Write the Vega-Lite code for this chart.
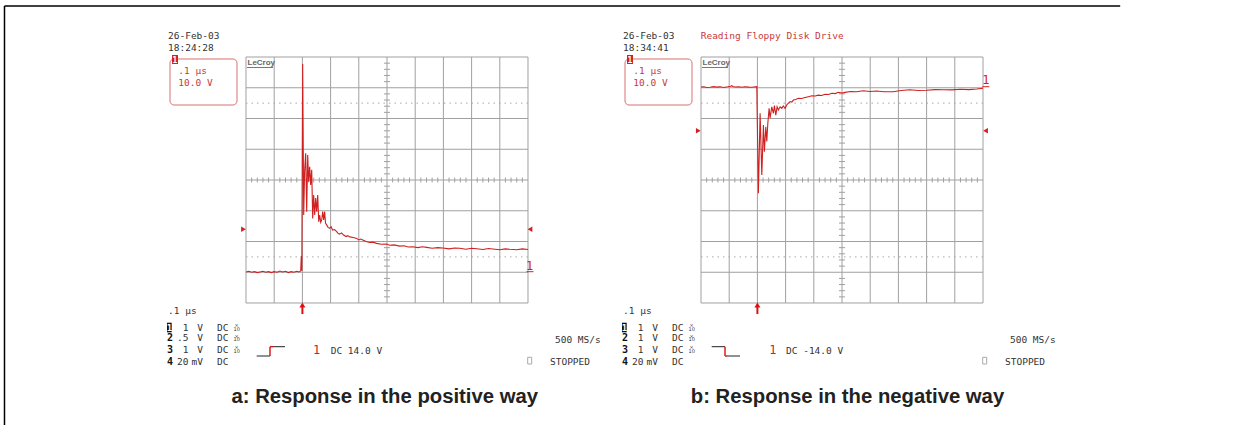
{
"$schema": "https://vega.github.io/schema/vega-lite/v6.json",
"width": 1233, "height": 425,
"autosize": {"type": "none"},
"padding": 0,
"background": "white",
"config": {"view": {"stroke": null}},
"datasets": {
"scr": [
{"p":"ab","r":"grid","x":0,"y":0,"x2":0,"y2":8},{"p":"ab","r":"grid","x":1,"y":0,"x2":1,"y2":8},{"p":"ab","r":"grid","x":2,"y":0,"x2":2,"y2":8},{"p":"ab","r":"grid","x":3,"y":0,"x2":3,"y2":8},{"p":"ab","r":"grid","x":4,"y":0,"x2":4,"y2":8},{"p":"ab","r":"grid","x":5,"y":0,"x2":5,"y2":8},{"p":"ab","r":"grid","x":6,"y":0,"x2":6,"y2":8},{"p":"ab","r":"grid","x":7,"y":0,"x2":7,"y2":8},{"p":"ab","r":"grid","x":8,"y":0,"x2":8,"y2":8},{"p":"ab","r":"grid","x":9,"y":0,"x2":9,"y2":8},{"p":"ab","r":"grid","x":10,"y":0,"x2":10,"y2":8},
{"p":"ab","r":"grid","x":0,"y":0,"x2":10,"y2":0},{"p":"ab","r":"grid","x":0,"y":1,"x2":10,"y2":1},{"p":"ab","r":"grid","x":0,"y":2,"x2":10,"y2":2},{"p":"ab","r":"grid","x":0,"y":3,"x2":10,"y2":3},{"p":"ab","r":"grid","x":0,"y":4,"x2":10,"y2":4},{"p":"ab","r":"grid","x":0,"y":5,"x2":10,"y2":5},{"p":"ab","r":"grid","x":0,"y":6,"x2":10,"y2":6},{"p":"ab","r":"grid","x":0,"y":7,"x2":10,"y2":7},{"p":"ab","r":"grid","x":0,"y":8,"x2":10,"y2":8},
{"p":"ab","r":"dot","x":0,"y":1.5,"x2":10,"y2":1.5},{"p":"ab","r":"dot","x":0,"y":6.5,"x2":10,"y2":6.5},
{"p":"ab","r":"xt","x":0.2,"y":4},{"p":"ab","r":"xt","x":0.4,"y":4},{"p":"ab","r":"xt","x":0.6,"y":4},{"p":"ab","r":"xt","x":0.8,"y":4},
{"p":"ab","r":"xt","x":1.2,"y":4},{"p":"ab","r":"xt","x":1.4,"y":4},{"p":"ab","r":"xt","x":1.6,"y":4},{"p":"ab","r":"xt","x":1.8,"y":4},
{"p":"ab","r":"xt","x":2.2,"y":4},{"p":"ab","r":"xt","x":2.4,"y":4},{"p":"ab","r":"xt","x":2.6,"y":4},{"p":"ab","r":"xt","x":2.8,"y":4},
{"p":"ab","r":"xt","x":3.2,"y":4},{"p":"ab","r":"xt","x":3.4,"y":4},{"p":"ab","r":"xt","x":3.6,"y":4},{"p":"ab","r":"xt","x":3.8,"y":4},
{"p":"ab","r":"xt","x":4.2,"y":4},{"p":"ab","r":"xt","x":4.4,"y":4},{"p":"ab","r":"xt","x":4.6,"y":4},{"p":"ab","r":"xt","x":4.8,"y":4},
{"p":"ab","r":"xt","x":5.2,"y":4},{"p":"ab","r":"xt","x":5.4,"y":4},{"p":"ab","r":"xt","x":5.6,"y":4},{"p":"ab","r":"xt","x":5.8,"y":4},
{"p":"ab","r":"xt","x":6.2,"y":4},{"p":"ab","r":"xt","x":6.4,"y":4},{"p":"ab","r":"xt","x":6.6,"y":4},{"p":"ab","r":"xt","x":6.8,"y":4},
{"p":"ab","r":"xt","x":7.2,"y":4},{"p":"ab","r":"xt","x":7.4,"y":4},{"p":"ab","r":"xt","x":7.6,"y":4},{"p":"ab","r":"xt","x":7.8,"y":4},
{"p":"ab","r":"xt","x":8.2,"y":4},{"p":"ab","r":"xt","x":8.4,"y":4},{"p":"ab","r":"xt","x":8.6,"y":4},{"p":"ab","r":"xt","x":8.8,"y":4},
{"p":"ab","r":"xt","x":9.2,"y":4},{"p":"ab","r":"xt","x":9.4,"y":4},{"p":"ab","r":"xt","x":9.6,"y":4},{"p":"ab","r":"xt","x":9.8,"y":4},
{"p":"ab","r":"yt","x":5,"y":0.2},{"p":"ab","r":"yt","x":5,"y":0.4},{"p":"ab","r":"yt","x":5,"y":0.6},{"p":"ab","r":"yt","x":5,"y":0.8},
{"p":"ab","r":"yt","x":5,"y":1.2},{"p":"ab","r":"yt","x":5,"y":1.4},{"p":"ab","r":"yt","x":5,"y":1.6},{"p":"ab","r":"yt","x":5,"y":1.8},
{"p":"ab","r":"yt","x":5,"y":2.2},{"p":"ab","r":"yt","x":5,"y":2.4},{"p":"ab","r":"yt","x":5,"y":2.6},{"p":"ab","r":"yt","x":5,"y":2.8},
{"p":"ab","r":"yt","x":5,"y":3.2},{"p":"ab","r":"yt","x":5,"y":3.4},{"p":"ab","r":"yt","x":5,"y":3.6},{"p":"ab","r":"yt","x":5,"y":3.8},
{"p":"ab","r":"yt","x":5,"y":4.2},{"p":"ab","r":"yt","x":5,"y":4.4},{"p":"ab","r":"yt","x":5,"y":4.6},{"p":"ab","r":"yt","x":5,"y":4.8},
{"p":"ab","r":"yt","x":5,"y":5.2},{"p":"ab","r":"yt","x":5,"y":5.4},{"p":"ab","r":"yt","x":5,"y":5.6},{"p":"ab","r":"yt","x":5,"y":5.8},
{"p":"ab","r":"yt","x":5,"y":6.2},{"p":"ab","r":"yt","x":5,"y":6.4},{"p":"ab","r":"yt","x":5,"y":6.6},{"p":"ab","r":"yt","x":5,"y":6.8},
{"p":"ab","r":"yt","x":5,"y":7.2},{"p":"ab","r":"yt","x":5,"y":7.4},{"p":"ab","r":"yt","x":5,"y":7.6},{"p":"ab","r":"yt","x":5,"y":7.8},
{"p":"a","r":"frameH","x":-8.564,"y":9.659,"x2":31.0},
{"p":"a","r":"frameV","x":-8.564,"y":9.659,"y2":-5.5},
{"p":"ab","r":"boxred","x":-2.695,"y":7.935,"x2":-0.319,"y2":6.439},
{"p":"ab","r":"badge","x":-2.624,"y":8.065,"x2":-2.411,"y2":7.772},
{"p":"ab","r":"badgetxt","x":-2.518,"y":7.81,"txt":"1"},
{"p":"ab","r":"red","x":-2.401,"y":7.463,"txt":".1 µs"},
{"p":"ab","r":"red","x":-2.401,"y":7.073,"txt":"10.0 V"},
{"p":"ab","r":"lecroy","x":0.053,"y":7.724,"txt":"LeCroy"},
{"p":"ab","r":"gline","x":0.035,"y":7.659,"x2":0.957,"y2":7.659},
{"p":"ab","r":"mono","x":-2.766,"y":-0.358,"txt":".1 µs"},
{"p":"ab","r":"inv","x":-2.801,"y":-0.641,"x2":-2.635,"y2":-0.953},
{"p":"ab","r":"invtxt","x":-2.718,"y":-0.911,"txt":"1"},
{"p":"ab","r":"chnum","x":-2.801,"y":-1.252,"txt":"2"},
{"p":"ab","r":"chnum","x":-2.801,"y":-1.626,"txt":"3"},
{"p":"ab","r":"chnum","x":-2.801,"y":-2.016,"txt":"4"},
{"p":"ab","r":"monoR","x":-2.039,"y":-0.911,"txt":"1"},
{"p":"a","r":"monoR","x":-2.039,"y":-1.252,"txt":".5"},
{"p":"b","r":"monoR","x":-2.039,"y":-1.252,"txt":"1"},
{"p":"ab","r":"monoR","x":-2.039,"y":-1.626,"txt":"1"},
{"p":"ab","r":"monoR","x":-2.039,"y":-2.016,"txt":"20"},
{"p":"ab","r":"monoR","x":-1.525,"y":-0.911,"txt":"V"},
{"p":"ab","r":"monoR","x":-1.525,"y":-1.252,"txt":"V"},
{"p":"ab","r":"monoR","x":-1.525,"y":-1.626,"txt":"V"},
{"p":"ab","r":"monoR","x":-1.525,"y":-2.016,"txt":"mV"},
{"p":"ab","r":"mono","x":-1.028,"y":-0.911,"txt":"DC"},
{"p":"ab","r":"mono","x":-1.028,"y":-1.252,"txt":"DC"},
{"p":"ab","r":"mono","x":-1.028,"y":-1.626,"txt":"DC"},
{"p":"ab","r":"mono","x":-1.028,"y":-2.016,"txt":"DC"},
{"p":"ab","r":"tiny","x":-0.33,"y":-0.78,"txt":"×"},
{"p":"ab","r":"tiny","x":-0.33,"y":-0.911,"txt":"10"},
{"p":"ab","r":"tiny","x":-0.33,"y":-1.122,"txt":"×"},
{"p":"ab","r":"tiny","x":-0.33,"y":-1.252,"txt":"10"},
{"p":"ab","r":"tiny","x":-0.33,"y":-1.496,"txt":"×"},
{"p":"ab","r":"tiny","x":-0.33,"y":-1.626,"txt":"10"},
{"p":"ab","r":"mono","x":10.957,"y":-1.317,"txt":"500 MS/s"},
{"p":"ab","r":"chk","x":9.989,"y":-1.766,"x2":10.131,"y2":-1.984},
{"p":"ab","r":"mono","x":10.78,"y":-2.016,"txt":"STOPPED"},
{"p":"a","r":"mono","x":-2.766,"y":8.585,"txt":"26-Feb-03"},
{"p":"a","r":"mono","x":-2.766,"y":8.195,"txt":"18:24:28"},
{"p":"b","r":"mono","x":-2.766,"y":8.585,"txt":"26-Feb-03"},
{"p":"b","r":"mono","x":-2.766,"y":8.195,"txt":"18:34:41"},
{"p":"b","r":"red","x":-0.011,"y":8.585,"txt":"Reading Floppy Disk Drive"},
{"p":"a","r":"blk","x":0.379,"y":-1.724,"x2":0.851,"y2":-1.724},
{"p":"a","r":"blk","x":0.957,"y":-1.421,"x2":1.383,"y2":-1.421},
{"p":"a","r":"redl","x":0.851,"y":-1.724,"x2":0.851,"y2":-1.421},
{"p":"a","r":"redl","x":0.851,"y":-1.421,"x2":0.957,"y2":-1.421},
{"p":"b","r":"blk","x":0.379,"y":-1.421,"x2":0.851,"y2":-1.421},
{"p":"b","r":"blk","x":0.922,"y":-1.724,"x2":1.383,"y2":-1.724},
{"p":"b","r":"redl","x":0.851,"y":-1.421,"x2":0.851,"y2":-1.724},
{"p":"b","r":"redl","x":0.851,"y":-1.724,"x2":0.922,"y2":-1.724},
{"p":"a","r":"trig1","x":2.376,"y":-1.659,"txt":"1"},
{"p":"a","r":"mono","x":3.004,"y":-1.659,"txt":"DC 14.0 V"},
{"p":"b","r":"trig1","x":2.422,"y":-1.659,"txt":"1"},
{"p":"b","r":"mono","x":3.014,"y":-1.659,"txt":"DC -14.0 V"},
{"p":"a","r":"cap","x":4.92,"y":-3.252,"txt":"a: Response in the positive way"},
{"p":"b","r":"cap","x":5.195,"y":-3.252,"txt":"b: Response in the negative way"}
],
"trA": [
{"t":-0.2,"v":0.1},{"t":-0.19,"v":0.3},{"t":-0.18,"v":0.0},{"t":-0.17,"v":0.2},{"t":-0.16,"v":-0.1},{"t":-0.15,"v":0.1},{"t":-0.14,"v":0.3},{"t":-0.13,"v":0.0},{"t":-0.12,"v":0.2},{"t":-0.11,"v":-0.1},{"t":-0.1,"v":0.2},{"t":-0.09,"v":0.0},{"t":-0.08,"v":0.4},{"t":-0.07,"v":0.1},{"t":-0.06,"v":0.3},{"t":-0.05,"v":-0.1},{"t":-0.04,"v":0.2},{"t":-0.03,"v":0.0},{"t":-0.02,"v":0.3},{"t":-0.012,"v":0.1},{"t":-0.006,"v":0.4},{"t":-0.004,"v":5.3},{"t":-0.002,"v":0.5},
{"t":0.001,"v":67.7},{"t":0.0046,"v":18.6},{"t":0.008,"v":33.3},{"t":0.0117,"v":38.7},{"t":0.0152,"v":19.7},{"t":0.0188,"v":38.1},{"t":0.0223,"v":29.4},{"t":0.0259,"v":34.3},{"t":0.0294,"v":28.4},{"t":0.033,"v":33.3},{"t":0.0365,"v":17.5},{"t":0.04,"v":25.1},{"t":0.0436,"v":18.6},{"t":0.0472,"v":24.1},{"t":0.0507,"v":19.7},{"t":0.0543,"v":25.1},{"t":0.0578,"v":16.4},{"t":0.0613,"v":18.6},{"t":0.065,"v":16.2},{"t":0.0684,"v":17.0},{"t":0.072,"v":19.7},{"t":0.0755,"v":17.0},{"t":0.079,"v":19.7},{"t":0.082,"v":16.0},{"t":0.086,"v":15.4},{"t":0.091,"v":14.6},{"t":0.0968,"v":14.3},{"t":0.102,"v":14.8},{"t":0.107,"v":13.7},{"t":0.114,"v":13.9},{"t":0.1216,"v":13.2},{"t":0.127,"v":12.6},{"t":0.132,"v":12.4},{"t":0.139,"v":12.8},{"t":0.146,"v":12.1},{"t":0.155,"v":11.6},{"t":0.161,"v":11.9},{"t":0.168,"v":11.5},{"t":0.18,"v":11.3},{"t":0.1926,"v":11.0},{"t":0.2,"v":10.5},{"t":0.207,"v":10.8},{"t":0.214,"v":10.5},{"t":0.226,"v":10.0},{"t":0.239,"v":9.7},{"t":0.25,"v":9.8},{"t":0.263,"v":9.4},{"t":0.28,"v":9.1},{"t":0.298,"v":9.2},{"t":0.31,"v":8.8},{"t":0.325,"v":8.9},{"t":0.345,"v":8.5},{"t":0.36,"v":8.6},{"t":0.375,"v":8.2},{"t":0.391,"v":8.3},{"t":0.41,"v":8.0},{"t":0.425,"v":8.3},{"t":0.441,"v":8.1},{"t":0.46,"v":7.8},{"t":0.48,"v":8.0},{"t":0.498,"v":7.9},{"t":0.52,"v":7.6},{"t":0.54,"v":7.9},{"t":0.558,"v":7.8},{"t":0.58,"v":7.5},{"t":0.6,"v":7.8},{"t":0.618,"v":7.66},{"t":0.64,"v":7.4},{"t":0.66,"v":7.7},{"t":0.675,"v":7.56},{"t":0.7,"v":7.3},{"t":0.72,"v":7.6},{"t":0.735,"v":7.46},{"t":0.76,"v":7.3},{"t":0.78,"v":7.6},{"t":0.8,"v":7.4}
],
"trB": [
{"t":-0.2,"v":0.24},{"t":-0.19,"v":0.3},{"t":-0.18,"v":0.1},{"t":-0.168,"v":0.15},{"t":-0.155,"v":0.35},{"t":-0.145,"v":0.2},{"t":-0.132,"v":0.3},{"t":-0.12,"v":0.1},{"t":-0.105,"v":0.3},{"t":-0.095,"v":0.5},{"t":-0.091,"v":0.67},{"t":-0.087,"v":0.4},{"t":-0.079,"v":0.24},{"t":-0.065,"v":0.3},{"t":-0.055,"v":0.15},{"t":-0.044,"v":0.34},{"t":-0.03,"v":0.2},{"t":-0.019,"v":0.18},{"t":-0.008,"v":0.3},{"t":-0.002,"v":0.34},{"t":-0.001,"v":-6.7},
{"t":0.0035,"v":-34.3},{"t":0.0096,"v":-8.3},{"t":0.0156,"v":-28.4},{"t":0.0213,"v":-12.1},{"t":0.0248,"v":-20.8},{"t":0.0298,"v":-12.7},{"t":0.0333,"v":-17.5},{"t":0.0369,"v":-11.6},{"t":0.0415,"v":-6.7},{"t":0.045,"v":-9.9},{"t":0.051,"v":-6.2},{"t":0.0567,"v":-8.3},{"t":0.0603,"v":-5.8},{"t":0.0652,"v":-8.9},{"t":0.0699,"v":-6.2},{"t":0.0745,"v":-7.2},{"t":0.0805,"v":-6.2},{"t":0.0865,"v":-6.7},{"t":0.092,"v":-5.9},{"t":0.0982,"v":-6.7},{"t":0.104,"v":-5.6},{"t":0.11,"v":-5.0},{"t":0.116,"v":-4.5},{"t":0.122,"v":-4.7},{"t":0.1277,"v":-4.0},{"t":0.136,"v":-3.8},{"t":0.145,"v":-3.4},{"t":0.157,"v":-3.5},{"t":0.169,"v":-3.2},{"t":0.181,"v":-2.9},{"t":0.193,"v":-2.6},{"t":0.205,"v":-2.7},{"t":0.216,"v":-2.4},{"t":0.228,"v":-2.5},{"t":0.24,"v":-2.1},{"t":0.252,"v":-2.2},{"t":0.264,"v":-1.8},{"t":0.276,"v":-1.9},{"t":0.287,"v":-1.5},{"t":0.3,"v":-1.7},{"t":0.311,"v":-1.5},{"t":0.33,"v":-1.2},{"t":0.352,"v":-1.3},{"t":0.375,"v":-1.0},{"t":0.4,"v":-1.2},{"t":0.423,"v":-1.06},{"t":0.45,"v":-1.3},{"t":0.481,"v":-1.3},{"t":0.51,"v":-0.9},{"t":0.541,"v":-0.63},{"t":0.57,"v":-0.9},{"t":0.6,"v":-0.83},{"t":0.63,"v":-0.6},{"t":0.658,"v":-0.63},{"t":0.69,"v":-0.7},{"t":0.719,"v":-0.5},{"t":0.75,"v":-0.6},{"t":0.778,"v":-0.4},{"t":0.8,"v":-0.18}
],
"mkA": [
{"k":"tl","t":-0.2089,"v":14},{"k":"tr","t":0.807,"v":14},{"k":"arr","t":0,"v":-10.65,"v2":-13.6},{"k":"gnd","t":0.807,"v":0.18},{"k":"g1","t":0.806,"v":0.73,"txt":"1"}
],
"mkB": [
{"k":"tl","t":-0.2096,"v":-14},{"k":"tr","t":0.809,"v":-14},{"k":"arr","t":0,"v":-70.65,"v2":-73.6},{"k":"gnd","t":0.81,"v":0.34},{"k":"g1","t":0.81,"v":1.22,"txt":"1"}
]
},
"layer": [
{
"layer": [
{
"data": {"name": "scr"},
"transform": [{"filter": "indexof(datum.p,'a')>=0"}],
"encoding": {
"x": {"field": "x", "type": "quantitative", "scale": {"domain": [-8.7234, 35.0], "nice": false, "zero": false}, "axis": null},
"y": {"field": "y", "type": "quantitative", "scale": {"domain": [-3.9675, 9.8537], "nice": false, "zero": false}, "axis": null}
},
"layer": [
{"transform": [{"filter": "datum.r=='grid'"}], "mark": {"type": "rule", "color": "#a0a0a0", "strokeWidth": 1}, "encoding": {"x2": {"field": "x2"}, "y2": {"field": "y2"}}},
{"transform": [{"filter": "datum.r=='dot'"}], "mark": {"type": "rule", "color": "#a8a8a8", "strokeWidth": 1, "strokeDash": [1.5, 4]}, "encoding": {"x2": {"field": "x2"}, "y2": {"field": "y2"}}},
{"transform": [{"filter": "datum.r=='xt'"}], "mark": {"type": "tick", "orient": "vertical", "size": 5, "thickness": 1, "color": "#a0a0a0", "opacity": 1}},
{"transform": [{"filter": "datum.r=='yt'"}], "mark": {"type": "tick", "orient": "horizontal", "size": 6, "thickness": 1, "color": "#a0a0a0", "opacity": 1}},
{"transform": [{"filter": "datum.r=='frameH'"}], "mark": {"type": "rule", "color": "#000000", "strokeWidth": 1.5}, "encoding": {"x2": {"field": "x2"}}},
{"transform": [{"filter": "datum.r=='frameV'"}], "mark": {"type": "rule", "color": "#000000", "strokeWidth": 1.5}, "encoding": {"y2": {"field": "y2"}}},
{"transform": [{"filter": "datum.r=='blk'"}], "mark": {"type": "rule", "color": "#222222", "strokeWidth": 1}, "encoding": {"x2": {"field": "x2"}, "y2": {"field": "y2"}}},
{"transform": [{"filter": "datum.r=='redl'"}], "mark": {"type": "rule", "color": "#d42020", "strokeWidth": 1.5}, "encoding": {"x2": {"field": "x2"}, "y2": {"field": "y2"}}},
{"transform": [{"filter": "datum.r=='gline'"}], "mark": {"type": "rule", "color": "#777777", "strokeWidth": 1}, "encoding": {"x2": {"field": "x2"}, "y2": {"field": "y2"}}},
{"transform": [{"filter": "datum.r=='boxred'"}], "mark": {"type": "rect", "filled": false, "stroke": "#d87070", "strokeWidth": 1, "cornerRadius": 4}, "encoding": {"x2": {"field": "x2"}, "y2": {"field": "y2"}}},
{"transform": [{"filter": "datum.r=='badge'"}], "mark": {"type": "rect", "color": "#d42020"}, "encoding": {"x2": {"field": "x2"}, "y2": {"field": "y2"}}},
{"transform": [{"filter": "datum.r=='inv'"}], "mark": {"type": "rect", "color": "#111111"}, "encoding": {"x2": {"field": "x2"}, "y2": {"field": "y2"}}},
{"transform": [{"filter": "datum.r=='chk'"}], "mark": {"type": "rect", "filled": false, "stroke": "#aaaaaa", "strokeWidth": 1}, "encoding": {"x2": {"field": "x2"}, "y2": {"field": "y2"}}},
{"transform": [{"filter": "datum.r=='mono'"}], "mark": {"type": "text", "align": "left", "baseline": "alphabetic", "font": "DejaVu Sans Mono", "fontSize": 9.5, "color": "#333333"}, "encoding": {"text": {"field": "txt"}}},
{"transform": [{"filter": "datum.r=='monoR'"}], "mark": {"type": "text", "align": "right", "baseline": "alphabetic", "font": "DejaVu Sans Mono", "fontSize": 9.5, "color": "#333333"}, "encoding": {"text": {"field": "txt"}}},
{"transform": [{"filter": "datum.r=='red'"}], "mark": {"type": "text", "align": "left", "baseline": "alphabetic", "font": "DejaVu Sans Mono", "fontSize": 9.5, "color": "#c83a3a"}, "encoding": {"text": {"field": "txt"}}},
{"transform": [{"filter": "datum.r=='chnum'"}], "mark": {"type": "text", "align": "left", "baseline": "alphabetic", "font": "DejaVu Sans Mono", "fontSize": 10, "fontWeight": "bold", "color": "#111111"}, "encoding": {"text": {"field": "txt"}}},
{"transform": [{"filter": "datum.r=='invtxt'"}], "mark": {"type": "text", "align": "center", "baseline": "alphabetic", "font": "DejaVu Sans Mono", "fontSize": 9, "fontWeight": "bold", "color": "#ffffff"}, "encoding": {"text": {"field": "txt"}}},
{"transform": [{"filter": "datum.r=='badgetxt'"}], "mark": {"type": "text", "align": "center", "baseline": "alphabetic", "font": "DejaVu Sans Mono", "fontSize": 8, "fontWeight": "bold", "color": "#ffffff"}, "encoding": {"text": {"field": "txt"}}},
{"transform": [{"filter": "datum.r=='tiny'"}], "mark": {"type": "text", "align": "center", "baseline": "alphabetic", "font": "DejaVu Sans", "fontSize": 5, "color": "#333333"}, "encoding": {"text": {"field": "txt"}}},
{"transform": [{"filter": "datum.r=='trig1'"}], "mark": {"type": "text", "align": "left", "baseline": "alphabetic", "font": "DejaVu Sans Mono", "fontSize": 12, "color": "#d42020"}, "encoding": {"text": {"field": "txt"}}},
{"transform": [{"filter": "datum.r=='lecroy'"}], "mark": {"type": "text", "align": "left", "baseline": "alphabetic", "font": "Liberation Sans", "fontSize": 8, "fontWeight": "bold", "color": "#666666"}, "encoding": {"text": {"field": "txt"}}},
{"transform": [{"filter": "datum.r=='cap'"}], "mark": {"type": "text", "align": "center", "baseline": "alphabetic", "font": "Liberation Sans", "fontSize": 20.3, "fontWeight": "bold", "color": "#222222"}, "encoding": {"text": {"field": "txt"}}}
]
},
{
"encoding": {
"x": {"field": "t", "type": "quantitative", "scale": {"domain": [-1.07234, 3.3], "nice": false, "zero": false}, "axis": null},
"y": {"field": "v", "type": "quantitative", "scale": {"domain": [-49.675, 88.537], "nice": false, "zero": false}, "axis": null}
},
"layer": [
{"data": {"name": "trA"}, "mark": {"type": "line", "color": "#d02020", "strokeWidth": 1.1}},
{"data": {"name": "mkA"}, "transform": [{"filter": "datum.k=='tl'"}], "mark": {"type": "point", "shape": "triangle-right", "filled": true, "size": 30, "color": "#d42020", "opacity": 1}},
{"data": {"name": "mkA"}, "transform": [{"filter": "datum.k=='tr'"}], "mark": {"type": "point", "shape": "triangle-left", "filled": true, "size": 30, "color": "#d42020", "opacity": 1}},
{"data": {"name": "mkA"}, "transform": [{"filter": "datum.k=='arr'"}], "mark": {"type": "rule", "color": "#e01010", "strokeWidth": 2}, "encoding": {"y2": {"field": "v2"}}},
{"data": {"name": "mkA"}, "transform": [{"filter": "datum.k=='arr'"}], "mark": {"type": "point", "shape": "triangle-up", "filled": true, "size": 36, "color": "#e01010", "opacity": 1}},
{"data": {"name": "mkA"}, "transform": [{"filter": "datum.k=='gnd'"}], "mark": {"type": "tick", "orient": "horizontal", "size": 7, "thickness": 1, "color": "#d42020", "opacity": 1}},
{"data": {"name": "mkA"}, "transform": [{"filter": "datum.k=='g1'"}], "mark": {"type": "text", "align": "center", "baseline": "alphabetic", "font": "DejaVu Sans Mono", "fontSize": 12, "color": "#d42020"}, "encoding": {"text": {"field": "txt"}}}
]
}
],
"resolve": {"scale": {"x": "independent", "y": "independent"}}
},
{
"layer": [
{
"data": {"name": "scr"},
"transform": [{"filter": "indexof(datum.p,'b')>=0"}],
"encoding": {
"x": {"field": "x", "type": "quantitative", "scale": {"domain": [-24.858, 18.865], "nice": false, "zero": false}, "axis": null},
"y": {"field": "y", "type": "quantitative", "scale": {"domain": [-3.9675, 9.8537], "nice": false, "zero": false}, "axis": null}
},
"layer": [
{"transform": [{"filter": "datum.r=='grid'"}], "mark": {"type": "rule", "color": "#a0a0a0", "strokeWidth": 1}, "encoding": {"x2": {"field": "x2"}, "y2": {"field": "y2"}}},
{"transform": [{"filter": "datum.r=='dot'"}], "mark": {"type": "rule", "color": "#a8a8a8", "strokeWidth": 1, "strokeDash": [1.5, 4]}, "encoding": {"x2": {"field": "x2"}, "y2": {"field": "y2"}}},
{"transform": [{"filter": "datum.r=='xt'"}], "mark": {"type": "tick", "orient": "vertical", "size": 5, "thickness": 1, "color": "#a0a0a0", "opacity": 1}},
{"transform": [{"filter": "datum.r=='yt'"}], "mark": {"type": "tick", "orient": "horizontal", "size": 6, "thickness": 1, "color": "#a0a0a0", "opacity": 1}},
{"transform": [{"filter": "datum.r=='blk'"}], "mark": {"type": "rule", "color": "#222222", "strokeWidth": 1}, "encoding": {"x2": {"field": "x2"}, "y2": {"field": "y2"}}},
{"transform": [{"filter": "datum.r=='redl'"}], "mark": {"type": "rule", "color": "#d42020", "strokeWidth": 1.5}, "encoding": {"x2": {"field": "x2"}, "y2": {"field": "y2"}}},
{"transform": [{"filter": "datum.r=='gline'"}], "mark": {"type": "rule", "color": "#777777", "strokeWidth": 1}, "encoding": {"x2": {"field": "x2"}, "y2": {"field": "y2"}}},
{"transform": [{"filter": "datum.r=='boxred'"}], "mark": {"type": "rect", "filled": false, "stroke": "#d87070", "strokeWidth": 1, "cornerRadius": 4}, "encoding": {"x2": {"field": "x2"}, "y2": {"field": "y2"}}},
{"transform": [{"filter": "datum.r=='badge'"}], "mark": {"type": "rect", "color": "#d42020"}, "encoding": {"x2": {"field": "x2"}, "y2": {"field": "y2"}}},
{"transform": [{"filter": "datum.r=='inv'"}], "mark": {"type": "rect", "color": "#111111"}, "encoding": {"x2": {"field": "x2"}, "y2": {"field": "y2"}}},
{"transform": [{"filter": "datum.r=='chk'"}], "mark": {"type": "rect", "filled": false, "stroke": "#aaaaaa", "strokeWidth": 1}, "encoding": {"x2": {"field": "x2"}, "y2": {"field": "y2"}}},
{"transform": [{"filter": "datum.r=='mono'"}], "mark": {"type": "text", "align": "left", "baseline": "alphabetic", "font": "DejaVu Sans Mono", "fontSize": 9.5, "color": "#333333"}, "encoding": {"text": {"field": "txt"}}},
{"transform": [{"filter": "datum.r=='monoR'"}], "mark": {"type": "text", "align": "right", "baseline": "alphabetic", "font": "DejaVu Sans Mono", "fontSize": 9.5, "color": "#333333"}, "encoding": {"text": {"field": "txt"}}},
{"transform": [{"filter": "datum.r=='red'"}], "mark": {"type": "text", "align": "left", "baseline": "alphabetic", "font": "DejaVu Sans Mono", "fontSize": 9.5, "color": "#c83a3a"}, "encoding": {"text": {"field": "txt"}}},
{"transform": [{"filter": "datum.r=='chnum'"}], "mark": {"type": "text", "align": "left", "baseline": "alphabetic", "font": "DejaVu Sans Mono", "fontSize": 10, "fontWeight": "bold", "color": "#111111"}, "encoding": {"text": {"field": "txt"}}},
{"transform": [{"filter": "datum.r=='invtxt'"}], "mark": {"type": "text", "align": "center", "baseline": "alphabetic", "font": "DejaVu Sans Mono", "fontSize": 9, "fontWeight": "bold", "color": "#ffffff"}, "encoding": {"text": {"field": "txt"}}},
{"transform": [{"filter": "datum.r=='badgetxt'"}], "mark": {"type": "text", "align": "center", "baseline": "alphabetic", "font": "DejaVu Sans Mono", "fontSize": 8, "fontWeight": "bold", "color": "#ffffff"}, "encoding": {"text": {"field": "txt"}}},
{"transform": [{"filter": "datum.r=='tiny'"}], "mark": {"type": "text", "align": "center", "baseline": "alphabetic", "font": "DejaVu Sans", "fontSize": 5, "color": "#333333"}, "encoding": {"text": {"field": "txt"}}},
{"transform": [{"filter": "datum.r=='trig1'"}], "mark": {"type": "text", "align": "left", "baseline": "alphabetic", "font": "DejaVu Sans Mono", "fontSize": 12, "color": "#d42020"}, "encoding": {"text": {"field": "txt"}}},
{"transform": [{"filter": "datum.r=='lecroy'"}], "mark": {"type": "text", "align": "left", "baseline": "alphabetic", "font": "Liberation Sans", "fontSize": 8, "fontWeight": "bold", "color": "#666666"}, "encoding": {"text": {"field": "txt"}}},
{"transform": [{"filter": "datum.r=='cap'"}], "mark": {"type": "text", "align": "center", "baseline": "alphabetic", "font": "Liberation Sans", "fontSize": 20.3, "fontWeight": "bold", "color": "#222222"}, "encoding": {"text": {"field": "txt"}}}
]
},
{
"encoding": {
"x": {"field": "t", "type": "quantitative", "scale": {"domain": [-2.68582, 1.68652], "nice": false, "zero": false}, "axis": null},
"y": {"field": "v", "type": "quantitative", "scale": {"domain": [-109.675, 28.537], "nice": false, "zero": false}, "axis": null}
},
"layer": [
{"data": {"name": "trB"}, "mark": {"type": "line", "color": "#d02020", "strokeWidth": 1.1}},
{"data": {"name": "mkB"}, "transform": [{"filter": "datum.k=='tl'"}], "mark": {"type": "point", "shape": "triangle-right", "filled": true, "size": 30, "color": "#d42020", "opacity": 1}},
{"data": {"name": "mkB"}, "transform": [{"filter": "datum.k=='tr'"}], "mark": {"type": "point", "shape": "triangle-left", "filled": true, "size": 30, "color": "#d42020", "opacity": 1}},
{"data": {"name": "mkB"}, "transform": [{"filter": "datum.k=='arr'"}], "mark": {"type": "rule", "color": "#e01010", "strokeWidth": 2}, "encoding": {"y2": {"field": "v2"}}},
{"data": {"name": "mkB"}, "transform": [{"filter": "datum.k=='arr'"}], "mark": {"type": "point", "shape": "triangle-up", "filled": true, "size": 36, "color": "#e01010", "opacity": 1}},
{"data": {"name": "mkB"}, "transform": [{"filter": "datum.k=='gnd'"}], "mark": {"type": "tick", "orient": "horizontal", "size": 7, "thickness": 1, "color": "#d42020", "opacity": 1}},
{"data": {"name": "mkB"}, "transform": [{"filter": "datum.k=='g1'"}], "mark": {"type": "text", "align": "center", "baseline": "alphabetic", "font": "DejaVu Sans Mono", "fontSize": 12, "color": "#d42020"}, "encoding": {"text": {"field": "txt"}}}
]
}
],
"resolve": {"scale": {"x": "independent", "y": "independent"}}
}
],
"resolve": {"scale": {"x": "independent", "y": "independent"}}
}
